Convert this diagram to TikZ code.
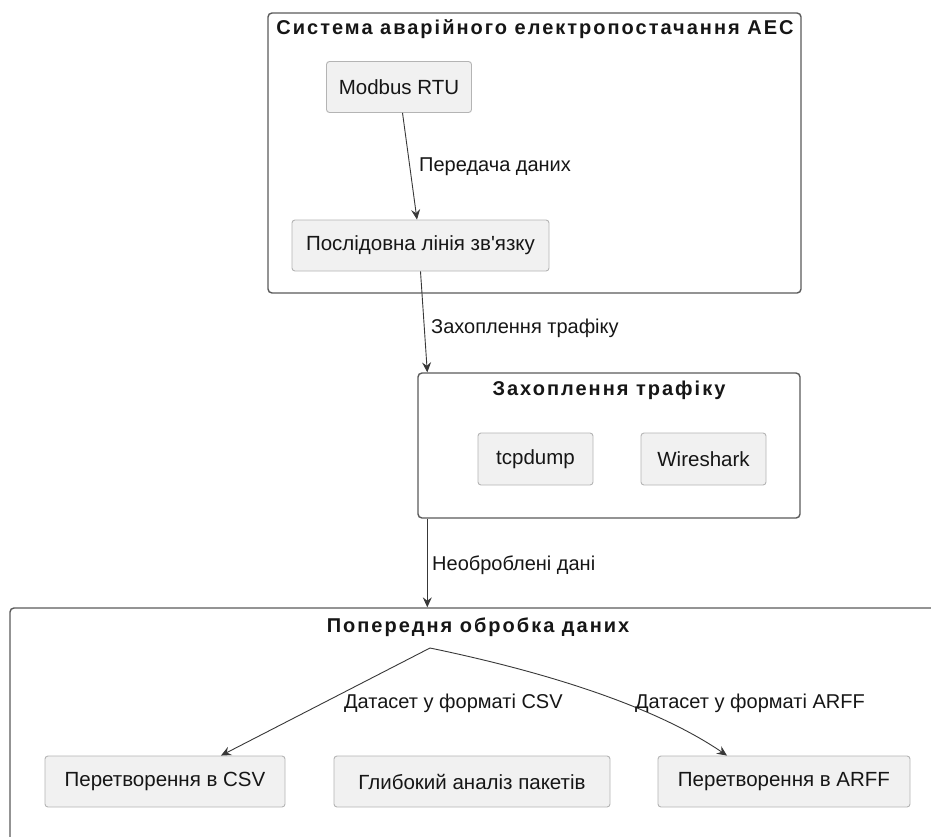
\documentclass[tikz,border=0pt]{standalone}
\usepackage{fontspec}
\setmainfont{Liberation Sans}
\newfontfamily\titlefont[LetterSpace=10]{Liberation Sans Bold}
\usepackage{tikz}
\usetikzlibrary{
  arrows.meta,
  positioning,
  calc,
}
\definecolor{boxfill}{HTML}{F1F1F1}
\definecolor{boxline}{HTML}{B4B4B4}
\definecolor{frameline}{HTML}{5A5A5A}
\definecolor{arrowgray}{HTML}{383838}
\definecolor{textgray}{HTML}{161616}

\begin{document}
\begin{tikzpicture}[
    x=1pt, y=-1pt,
    frame/.style={draw=frameline, line width=1.4pt, rounded corners=4pt, fill=white},
    comp/.style={draw=boxline, fill=boxfill, line width=0.9pt, rounded corners=3pt,
                 text=textgray, font=\fontsize{20.5}{24}\selectfont, inner sep=0pt},
    grouptitle/.style={text=textgray, font=\titlefont\fontsize{20}{24}\selectfont},
    lbl/.style={text=textgray, font=\fontsize{20}{24}\selectfont, anchor=west, inner sep=0pt},
    flow/.style={-{Stealth[length=10pt, width=9pt, inset=3.5pt]}, draw=arrowgray, line width=0.9pt},
  ]
  \path[use as bounding box, clip] (0,0) rectangle (931,836);

  % containers
  \node[frame, minimum width=533pt, minimum height=280pt] (sys) at (534.5,153)   {};
  \node[frame, minimum width=382pt, minimum height=145pt] (cap) at (609,445.5)   {};
  \node[frame, minimum width=934pt, minimum height=260pt] (pre) at (477,738)     {};

  \node[grouptitle] (systitle) at (535,29)  {Система аварійного електропостачання АЕС};
  \node[grouptitle] (captitle) at (609,390) {Захоплення трафіку};
  \node[grouptitle] (pretitle) at (478,627) {Попередня обробка даних};

  % components
  \node[comp, minimum width=145pt, minimum height=51pt] (modbus) at (399,87)    {Modbus RTU};
  \node[comp, minimum width=257pt, minimum height=51pt] (serial) at (420.5,245.5) {Послідовна лінія зв\textquotesingle язку};
  \node[comp, minimum width=115pt, minimum height=52pt] (tcpdump) at (535.5,459) {tcpdump};
  \node[comp, minimum width=125pt, minimum height=52pt] (wshark) at (703.5,459)  {Wireshark};
  \node[comp, minimum width=240pt, minimum height=51pt] (csv)  at (165,781.5) {Перетворення в CSV};
  \node[comp, minimum width=276pt, minimum height=51pt] (dpi)  at (472,781.5) {Глибокий аналіз пакетів};
  \node[comp, minimum width=252pt, minimum height=51pt] (arff) at (784,781.5) {Перетворення в ARFF};

  \coordinate (capin)  at ($(cap.north west)+(10,0)$);
  \coordinate (capout) at ($(cap.south west)+(10,0)$);
  \coordinate (fork)   at (430,648);
  \coordinate (csvin)  at ($(csv.north)+(56,0)$);
  \coordinate (arffin) at ($(arff.north)+(-57,0)$);

  \draw[flow] (modbus) -- (serial);
  \draw[flow] (serial.south) -- (capin);
  \draw[flow] (capout) -- (capout |- pre.north);
  \draw[flow] (fork) -- (csvin);
  \draw[flow] (fork) .. controls (560,675) and (660,710) .. (arffin);

  % edge labels
  \node[lbl] (l1) at (419,167) {Передача даних};
  \node[lbl] (l2) at (431,328) {Захоплення трафіку};
  \node[lbl] (l3) at (432,565) {Необроблені дані};
  \node[lbl] (l4) at (344,703) {Датасет у форматі CSV};
  \node[lbl] (l5) at (635,703) {Датасет у форматі ARFF};
\end{tikzpicture}
\end{document}
